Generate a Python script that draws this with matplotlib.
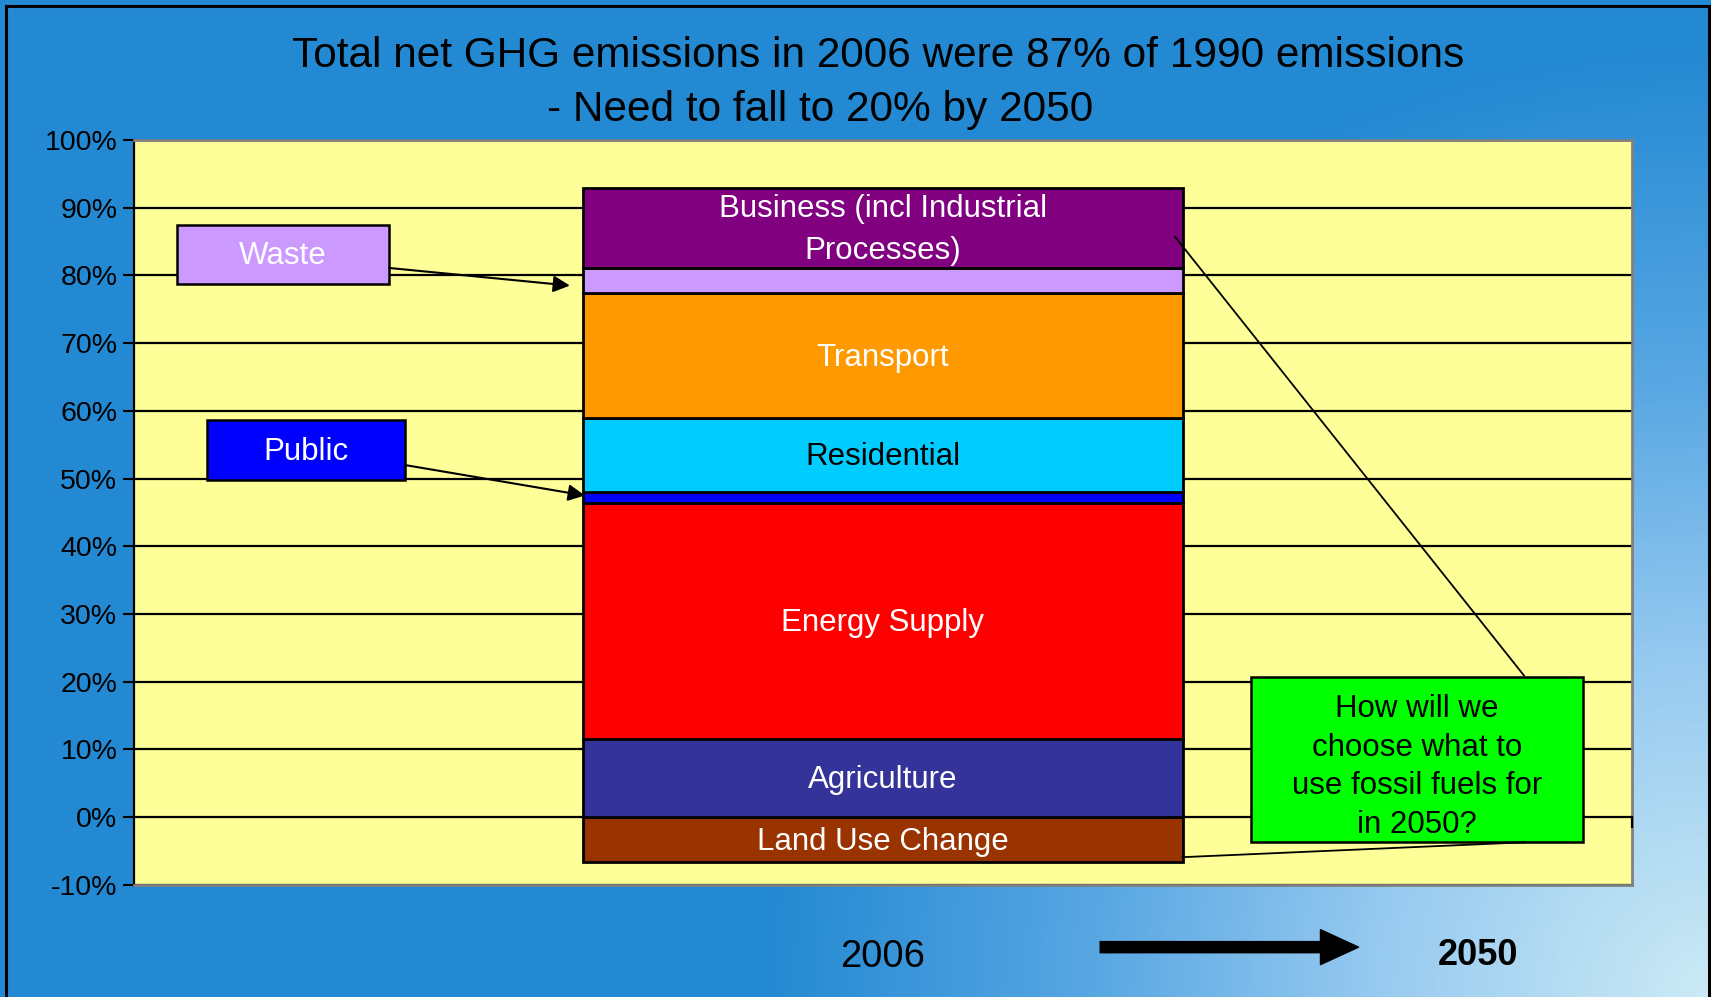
import numpy as np
import matplotlib.pyplot as plt
from matplotlib.colors import LinearSegmentedColormap
from matplotlib.patches import Rectangle
from matplotlib.lines import Line2D

plt.rcParams['font.family'] = ['Liberation Sans', 'DejaVu Sans']

# data (% of 1990 emissions, 2006)
sectors = ['Land Use Change', 'Agriculture', 'Energy Supply', 'Public',
           'Residential', 'Transport', 'Waste',
           'Business (incl Industrial\nProcesses)']
shares = [-6.6, 11.6, 34.8, 1.6, 10.9, 18.5, 3.7, 11.8]
colors = ['#993300', '#333399', '#FF0000', '#0000FF',
          '#00CCFF', '#FF9900', '#CC99FF', '#800080']
label_colors = ['white', 'white', 'white', None,
                'black', 'white', None, 'white']
yticks = np.arange(-10, 101, 10)
year = '2006'

fig = plt.figure(figsize=(17.11, 9.97), dpi=100)

# background gradient, light in the bottom right corner
bg = fig.add_axes([0, 0, 1, 1], zorder=-10)
h, w = 200, 343
yy, xx = np.mgrid[0:h, 0:w]
d = np.hypot((w - 1 - xx) * 5.0, (h - 1 - yy) * 5.0) / 950.0
cmap = LinearSegmentedColormap.from_list(
    'bgc', [(0, '#CBEAF5'), (0.35, '#97CAF0'), (0.65, '#58A7E3'), (1, '#2389D2')])
bg.imshow(cmap(np.clip(d, 0, 1)), aspect='auto', extent=[0, 1, 0, 1])
bg.set_xlim(0, 1)
bg.set_ylim(0, 1)
bg.axis('off')

# border
for xs, ys in [([0.0035, 0.0035], [0, 0.9943]), ([0.0035, 0.9988], [0.9943, 0.9943]),
               ([0.9988, 0.9988], [0, 0.9943])]:
    fig.add_artist(Line2D(xs, ys, color='black', lw=2.2, transform=fig.transFigure))

ax = fig.add_axes([0.0783, 0.1124, 0.8755, 0.7472])
ax.set_facecolor('#FFFF99')
ax.set_xlim(-0.5, 0.5)
ax.set_ylim(-10, 100)

for t in yticks:
    ax.axhline(t, color='black', lw=1.6, zorder=1)

# stacked bar
bottoms = []
pos = 0
for v in shares:
    if v < 0:
        bottoms.append(0)
    else:
        bottoms.append(pos)
        pos += v
ax.bar([0] * len(shares), shares, bottom=bottoms, width=0.4, color=colors,
       edgecolor='black', lw=2, zorder=3)

for name, v, b, c in zip(sectors, shares, bottoms, label_colors):
    if c is None:
        continue
    ax.text(0, b + v / 2 - 0.3, name, ha='center', va='center', color=c,
            fontsize=22.5, zorder=5, linespacing=1.5)

ax.set_yticks(yticks)
ax.set_yticklabels([f'{t}%' for t in yticks], fontsize=20.5)
ax.tick_params(axis='y', length=8, width=1.5, color='black', pad=4)
ax.set_xticks([])
for s in ['top', 'right', 'bottom']:
    ax.spines[s].set_color('#808080')
    ax.spines[s].set_linewidth(2)
ax.spines['left'].set_color('black')
ax.spines['left'].set_linewidth(1.6)
ax.plot([0.5, 0.5], [0, -1.5], color='black', lw=1.6, clip_on=False, zorder=6)

# callout boxes
ax.add_patch(Rectangle((-0.471, 78.7), 0.141, 8.8, facecolor='#CC99FF',
                       edgecolor='black', lw=1.8, zorder=4))
ax.text(-0.4005, 82.9, 'Waste', ha='center', va='center', color='white',
        fontsize=22.5, zorder=5)
ax.annotate('', xy=(-0.209, 78.5), xytext=(-0.3296, 81.1),
            arrowprops=dict(arrowstyle='-|>', color='black', lw=1.5,
                            mutation_scale=25, shrinkA=0, shrinkB=0), zorder=6)

ax.add_patch(Rectangle((-0.451, 49.8), 0.132, 8.8, facecolor='#0000FF',
                       edgecolor='black', lw=1.8, zorder=4))
ax.text(-0.385, 53.9, 'Public', ha='center', va='center', color='white',
        fontsize=22.5, zorder=5)
ax.annotate('', xy=(-0.199, 47.5), xytext=(-0.319, 52.0),
            arrowprops=dict(arrowstyle='-|>', color='black', lw=1.5,
                            mutation_scale=25, shrinkA=0, shrinkB=0), zorder=6)

ax.add_patch(Rectangle((0.246, -3.7), 0.221, 24.4, facecolor='#00FF00',
                       edgecolor='black', lw=1.8, zorder=4))
ax.text(0.3565, 7.4, 'How will we\nchoose what to\nuse fossil fuels for\nin 2050?',
        ha='center', va='center', color='black', fontsize=22.5,
        linespacing=1.37, zorder=5)
ax.plot([0.195, 0.428], [85.7, 20.9], color='black', lw=1.3, zorder=6)
ax.plot([0.2, 0.4286], [-5.9, -3.7], color='black', lw=1.3, zorder=6)

# title and bottom labels
fig.text(0.5135, 0.9442, 'Total net GHG emissions in 2006 were 87% of 1990 emissions',
         ha='center', va='center', fontsize=30.5)
fig.text(0.4796, 0.8895, '- Need to fall to 20% by 2050',
         ha='center', va='center', fontsize=30.5)
fig.text(0.516, 0.040, year, ha='center', va='center', fontsize=27.5)
fig.text(0.864, 0.042, '2050', ha='center', va='center', fontsize=26,
         fontweight='bold')
ax.annotate('', xy=(0.794, 0.05), xytext=(0.643, 0.05),
            xycoords='figure fraction', textcoords='figure fraction',
            arrowprops=dict(arrowstyle='simple,head_length=1.37,head_width=1.26,tail_width=0.4',
                            color='black', mutation_scale=20, shrinkA=0, shrinkB=0))

fig.savefig('out.png', dpi=100)
